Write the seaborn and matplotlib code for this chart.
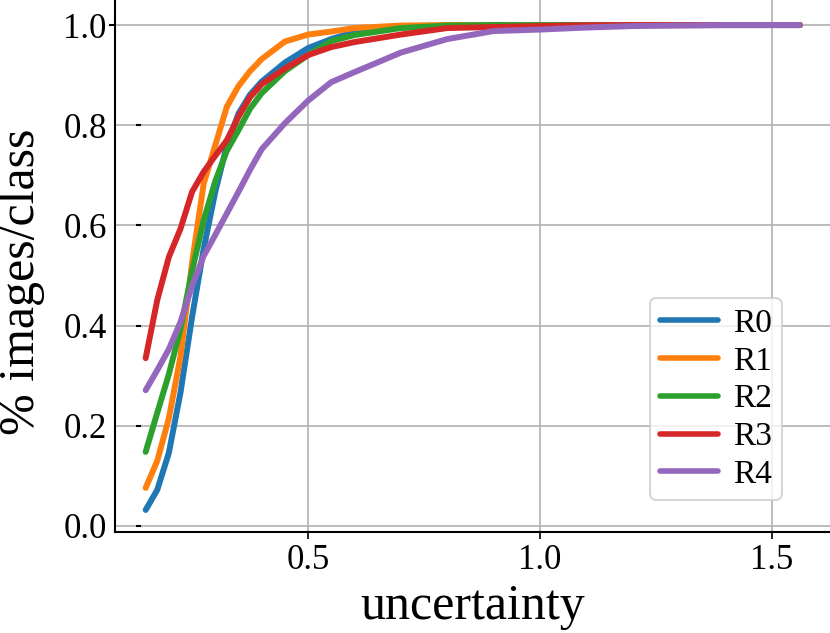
import numpy as np
import pandas as pd
import matplotlib.pyplot as plt
import matplotlib.transforms as mtransforms
import seaborn as sns

# === DATA ===
uncertainty = [0.15, 0.175, 0.2, 0.225, 0.25, 0.275, 0.3, 0.325, 0.35, 0.375, 0.4,
               0.45, 0.5, 0.55, 0.6, 0.7, 0.8, 0.9, 1.0, 1.1, 1.2, 1.4, 1.56]
r0 = [0.032, 0.072, 0.146, 0.266, 0.417, 0.553, 0.667, 0.760, 0.823, 0.861, 0.887,
      0.925, 0.954, 0.972, 0.986, 0.995, 0.999, 1.0, 1.0, 1.0, 1.0, 1.0, 1.0]
r1 = [0.076, 0.130, 0.215, 0.338, 0.525, 0.683, 0.760, 0.837, 0.878, 0.908, 0.932,
      0.967, 0.981, 0.987, 0.994, 0.999, 1.0, 1.0, 1.0, 1.0, 1.0, 1.0, 1.0]
r2 = [0.148, 0.226, 0.303, 0.393, 0.509, 0.610, 0.688, 0.749, 0.790, 0.833, 0.864,
      0.908, 0.940, 0.968, 0.980, 0.994, 0.999, 1.0, 1.0, 1.0, 1.0, 1.0, 1.0]
r3 = [0.335, 0.451, 0.537, 0.593, 0.667, 0.707, 0.739, 0.770, 0.817, 0.856, 0.882,
      0.913, 0.940, 0.956, 0.966, 0.981, 0.994, 0.996, 0.998, 0.9995, 1.0, 1.0, 1.0]
r4 = [0.271, 0.311, 0.353, 0.407, 0.479, 0.539, 0.581, 0.624, 0.667, 0.711, 0.752,
      0.804, 0.849, 0.886, 0.906, 0.945, 0.972, 0.988, 0.991, 0.995, 0.998, 1.0, 1.0]
runs = ["R0", "R1", "R2", "R3", "R4"]
x_ticks = [0.5, 1.0, 1.5]
y_ticks = [0.0, 0.2, 0.4, 0.6, 0.8, 1.0]

df = pd.concat([
    pd.DataFrame({"uncertainty": uncertainty, "frac": vals, "run": name})
    for name, vals in zip(runs, [r0, r1, r2, r3, r4])
], ignore_index=True)

# === STYLE ===
sns.set_style("whitegrid", {"grid.color": "#b0b0b0", "axes.edgecolor": "black",
                            "text.color": "black", "axes.labelcolor": "black",
                            "xtick.color": "black", "ytick.color": "black"})
plt.rcParams["font.family"] = ["Liberation Serif", "DejaVu Serif"]

fig, ax = plt.subplots(figsize=(8.3, 6.33), dpi=100)
fig.subplots_adjust(left=0.1386, right=1.0, top=1.0, bottom=0.1596)

sns.lineplot(data=df, x="uncertainty", y="frac", hue="run", palette="tab10",
             linewidth=4.3, ax=ax)

ax.set_xlim(0.084, 1.625)
ax.set_ylim(-0.012, 1.05)
ax.set_xticks(x_ticks)
ax.set_yticks(y_ticks)
ax.grid(True, color="#b0b0b0", linewidth=1.2)
for side in ["top", "right"]:
    ax.spines[side].set_visible(False)
for side in ["left", "bottom"]:
    ax.spines[side].set_color("black")
    ax.spines[side].set_linewidth(1.5)

ax.tick_params(axis="x", labelsize=25, length=5, width=1.2, pad=4, bottom=True,
               direction="out", colors="black")
ax.tick_params(axis="y", labelsize=25, length=0, pad=6, colors="black")

# odd little y tick dashes seen in the reference
trans = mtransforms.blended_transform_factory(ax.transAxes, ax.transData)
ax.hlines(y_ticks[:-1], 0.029, 0.036, transform=trans, color="black", linewidth=1.5)
ax.hlines(y_ticks[-1:], -0.009, 0.0, transform=trans, color="black", linewidth=1.5,
          clip_on=False)

ax.set_xlabel("uncertainty", fontsize=36, color="black")
ax.set_ylabel("% images/class", fontsize=36, color="black")
ax.yaxis.set_label_coords(-0.098, 0.47)

leg = ax.legend(loc="lower right", bbox_to_anchor=(0.933, 0.06), borderaxespad=0,
                fontsize=24, handlelength=1.75, handletextpad=0.45,
                labelspacing=0.22, borderpad=0.3, frameon=True)
leg.get_frame().set_edgecolor("#cccccc")
leg.get_frame().set_linewidth(1.5)
for line in leg.get_lines():
    line.set_linewidth(4)
for text in leg.get_texts():
    text.set_color("black")

plt.savefig("out.png", dpi=100)
